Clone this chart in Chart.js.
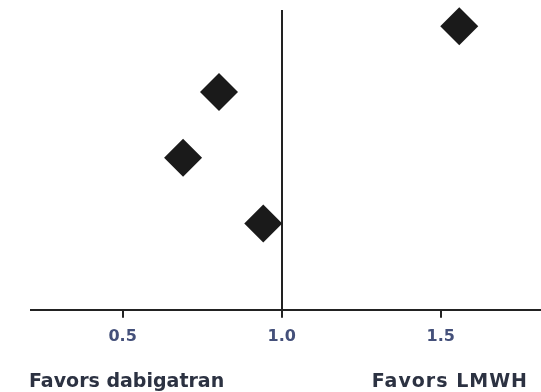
<!DOCTYPE html>
<html>
<head>
<meta charset="utf-8">
<script src="https://cdn.jsdelivr.net/npm/chart.js@4"></script>
<style>
  html, body { margin: 0; padding: 0; background: #fff; }
  #wrap { width: 541px; height: 392px; position: relative; }
</style>
</head>
<body>
<div id="wrap"><canvas id="myChart"></canvas></div>
<script>
// hazard ratios per study (top to bottom)
const rows = [1, 2, 3, 4];
const ratios = [1.558, 0.803, 0.690, 0.942];
const xTicks = [0.5, 1.0, 1.5];
const sideLabels = ['Favors dabigatran', 'Favors LMWH'];

const points = rows.map((r, i) => ({ x: ratios[i], y: r }));

// 아래쪽 설명 문구
const sideLabelPlugin = {
  id: 'sideLabels',
  afterDraw(chart) {
    const c = chart.ctx;
    c.save();
    c.font = 'bold 19px "DejaVu Sans", sans-serif';
    c.fillStyle = '#2c3242';
    c.textBaseline = 'alphabetic';
    c.textAlign = 'left';
    c.fillText(sideLabels[0], 29, 387);
    c.textAlign = 'right';
    c.letterSpacing = '1px';
    c.fillText(sideLabels[1], 528, 387);
    c.restore();
  }
};

const ctx = document.getElementById('myChart');
new Chart(ctx, {
  type: 'scatter',
  data: {
    datasets: [{
      data: points,
      pointStyle: 'rectRot',
      pointRadius: 19,
      pointHoverRadius: 19,
      backgroundColor: '#1a1a1a',
      borderWidth: 0,
      clip: false
    }]
  },
  options: {
    responsive: true,
    maintainAspectRatio: false,
    animation: false,
    layout: { autoPadding: false, padding: { left: 31, right: 0, top: 11, bottom: 37 } },
    plugins: { legend: { display: false }, tooltip: { enabled: false } },
    scales: {
      x: {
        type: 'linear',
        min: 0.212,
        max: 1.815,
        afterBuildTicks: axis => { axis.ticks = xTicks.map(v => ({ value: v })); },
        grid: { drawOnChartArea: false, drawTicks: true, tickLength: 8, color: '#222', lineWidth: 2 },
        border: { color: '#222', width: 2 },
        ticks: {
          color: '#44507a',
          padding: 9,
          font: { family: '"DejaVu Sans", sans-serif', size: 16, weight: 'bold' },
          callback: v => v.toFixed(1)
        }
      },
      y: {
        type: 'linear',
        reverse: true,
        min: 0.767,
        max: 5.313,
        position: { x: 1.0 },
        grid: { display: false, drawTicks: false },
        border: { color: '#222', width: 2 },
        ticks: { display: false }
      }
    }
  },
  plugins: [sideLabelPlugin]
});
</script>
</body>
</html>
